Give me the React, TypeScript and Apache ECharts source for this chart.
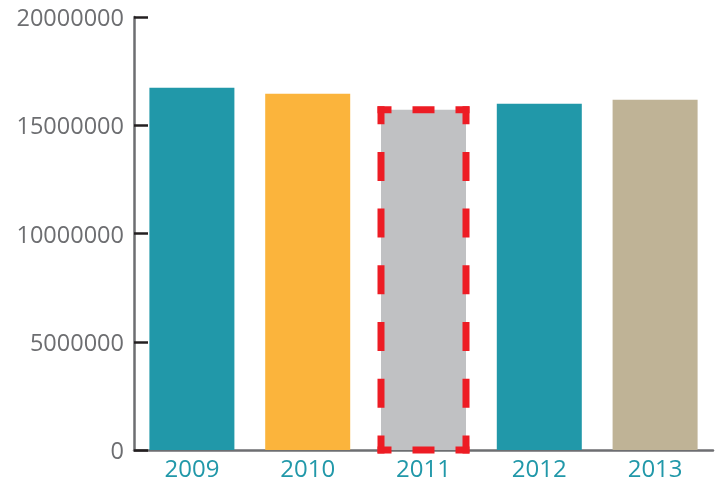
import React, { useEffect, useRef } from "react";
import * as echarts from "echarts";

const categories = ["2009", "2010", "2011", "2012", "2013"];
const values = [16730000, 16450000, 15720000, 15990000, 16180000];
const barColors = ["#2198a9", "#fbb43c", "#c0c1c3", "#2198a9", "#bfb396"];
const yTicks = { min: 0, max: 20000000, interval: 5000000 };
const highlighted = "2011";

const BAR_W = 85;
const BORDER_W = 7;
const RED = "#ed1c24";

function dashFor(len: number, dash: number, end: number, gaps: number) {
  const gap = (len - 2 * end - (gaps - 1) * dash) / gaps;
  return { lineDash: [dash, Math.max(gap, 1)], lineDashOffset: dash - end };
}

export default function App() {
  const ref = useRef<HTMLDivElement>(null);
  useEffect(() => {
    if (!ref.current) return;
    const chart = echarts.init(ref.current, null, { renderer: "svg" });
    const hi = categories.indexOf(highlighted);
    chart.setOption({
      animation: false,
      grid: { left: 134, top: 17, right: 10, bottom: 32 },
      xAxis: {
        type: "category",
        data: categories,
        axisLine: { lineStyle: { color: "#6d6e71", width: 2.5 } },
        axisTick: { inside: true, length: 10, lineStyle: { color: "#231f20", width: 2 } },
        axisLabel: { color: "#2198a9", fontSize: 24, fontFamily: "Open Sans", margin: 5 },
      },
      yAxis: {
        type: "value",
        min: yTicks.min,
        max: yTicks.max,
        interval: yTicks.interval,
        splitLine: { show: false },
        axisLine: { show: true, lineStyle: { color: "#6d6e71", width: 2.5 } },
        axisTick: { show: true, inside: true, length: 14, lineStyle: { color: "#231f20", width: 2.5 } },
        axisLabel: {
          color: "#6d6e71",
          fontSize: 23.5,
          fontFamily: "Open Sans",
          margin: 10,
          formatter: (v: number) => String(v),
        },
      },
      series: [
        {
          type: "bar",
          barWidth: BAR_W,
          data: values.map((v, i) => ({ value: v, itemStyle: { color: barColors[i] } })),
        },
        {
          type: "custom",
          z: 5,
          data: [[hi, values[hi]]],
          renderItem: (params: any, api: any) => {
            const idx = api.value(0);
            const v = api.value(1);
            const [cx, ty] = api.coord([idx, v]);
            const [, by] = api.coord([idx, 0]);
            const x0 = cx - BAR_W / 2;
            const x1 = cx + BAR_W / 2;
            const o = BORDER_W / 2;
            const hLen = BAR_W + BORDER_W;
            const vLen = by - ty + BORDER_W;
            const hd = dashFor(hLen, 22, 14, 2);
            const vd = dashFor(vLen, 29, 18, 6);
            const st = (d: any) => ({ stroke: RED, lineWidth: BORDER_W, lineCap: "butt", fill: null, ...d });
            return {
              type: "group",
              children: [
                { type: "line", shape: { x1: x0 - o, y1: ty, x2: x1 + o, y2: ty }, style: st(hd) },
                { type: "line", shape: { x1: x0 - o, y1: by, x2: x1 + o, y2: by }, style: st(hd) },
                { type: "line", shape: { x1: x0, y1: ty - o, x2: x0, y2: by + o }, style: st(vd) },
                { type: "line", shape: { x1: x1, y1: ty - o, x2: x1, y2: by + o }, style: st(vd) },
              ],
            };
          },
        },
      ],
    });
    return () => chart.dispose();
  }, []);
  return <div ref={ref} style={{ position: "fixed", left: 0, top: 0, width: 723, height: 482 }} />;
}
